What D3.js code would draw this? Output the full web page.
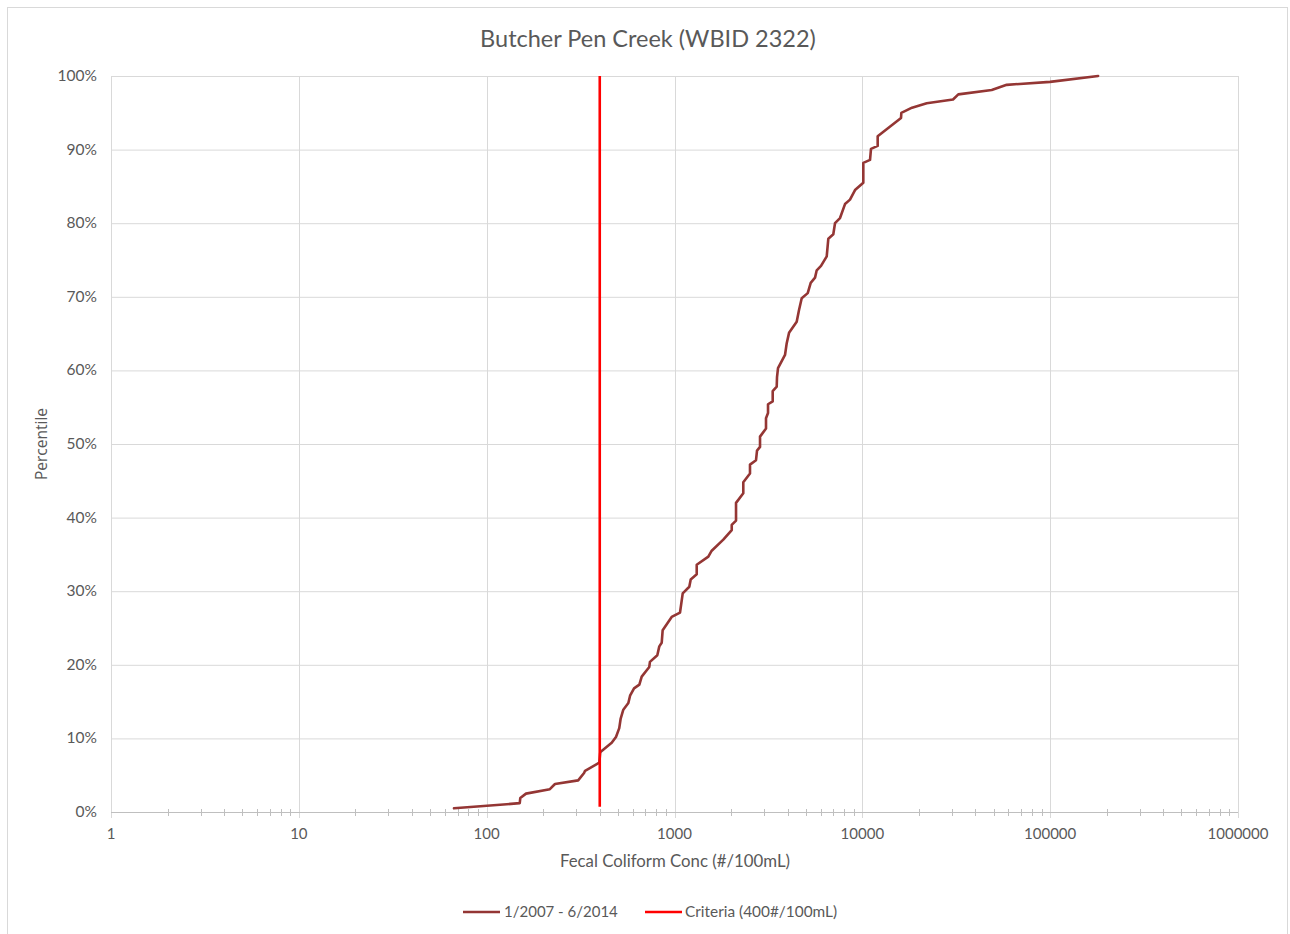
<!DOCTYPE html>
<html><head><meta charset="utf-8">
<script src="https://cdn.jsdelivr.net/npm/d3@7"></script>
<style>body{margin:0;background:#fff}</style>
</head><body><svg id="c" width="1290" height="934"></svg>
<script>
// Data
const conc = [67,150,151,162,217,231,307,330,334,398,402,405,463,488,508,517,534,568,580,609,650,669,734,740,810,830,855,865,966,1070,1106,1199,1220,1313,1313,1514,1578,1819,2017,2017,2126,2126,2324,2324,2523,2523,2716,2750,2853,2853,3070,3070,3147,3147,3333,3333,3501,3514,3557,3876,3958,4072,4473,4602,4756,5120,5311,5600,5717,6026,6463,6591,7006,7154,7606,8087,8598,9142,10120,10120,10990,11120,12070,12070,16070,16130,18390,22020,30400,32430,48850,58700,99800,180000];
const pct = [0.5,1.2,1.9,2.5,3.1,3.8,4.3,5.3,5.6,6.7,8.0,8.2,9.4,10.2,11.4,12.7,13.9,14.8,15.8,16.8,17.3,18.4,19.7,20.4,21.3,22.5,23.0,24.7,26.5,27.1,29.7,30.6,31.6,32.3,33.6,34.7,35.5,37.0,38.3,39.0,39.6,42.0,43.3,44.8,46.0,47.2,47.8,49.1,49.6,51.0,52.1,53.5,54.2,55.4,55.8,57.2,57.8,59.1,60.3,62.1,63.7,65.1,66.6,68.2,69.8,70.5,71.9,72.6,73.6,74.2,75.5,77.9,78.5,80.0,80.7,82.6,83.2,84.5,85.5,88.2,88.6,90.1,90.5,91.8,94.3,95.0,95.7,96.3,96.8,97.5,98.1,98.8,99.2,100];
const criteriaConc = [400, 400];
const criteriaPct = [0.7, 100];
const xTickValues = [1,10,100,1000,10000,100000,1000000];
const yTickValues = [0,10,20,30,40,50,60,70,80,90,100];
const seriesNames = ["1/2007 - 6/2014", "Criteria (400#/100mL)"];
const titleText = "Butcher Pen Creek (WBID 2322)";
const xTitle = "Fecal Coliform Conc (#/100mL)";
const yTitle = "Percentile";

const svg = d3.select("#c");
const FONT = "Lato, 'Open Sans', sans-serif";
const TXT = "#595959";
const GRID = "#D9D9D9";
const m = {l:111, r:1238, t:76, b:812};

svg.append("rect").attr("x",7.5).attr("y",7.5).attr("width",1280).attr("height",940)
  .attr("fill","#fff").attr("stroke","#D9D9D9");

const x = d3.scaleLog().domain([1,1000000]).range([m.l,m.r]);
const y = d3.scaleLinear().domain([0,100]).range([m.b,m.t]);

// horizontal grid
svg.append("g").selectAll("line").data(yTickValues.filter(d=>d>0)).join("line")
  .attr("x1",m.l).attr("x2",m.r).attr("y1",d=>y(d)+0.5).attr("y2",d=>y(d)+0.5)
  .attr("stroke",GRID).attr("stroke-width",1);
// vertical grid
svg.append("g").selectAll("line").data(xTickValues).join("line")
  .attr("x1",d=>Math.round(x(d))+0.5).attr("x2",d=>Math.round(x(d))+0.5)
  .attr("y1",m.t).attr("y2",m.b+6)
  .attr("stroke",GRID).attr("stroke-width",1);

// minor ticks
const minor = [];
for (let dec=0; dec<6; dec++) for (let k=2;k<=9;k++) minor.push(Math.pow(10,dec)*k);
svg.append("g").selectAll("line").data(minor).join("line")
  .attr("x1",d=>Math.round(x(d))+0.5).attr("x2",d=>Math.round(x(d))+0.5)
  .attr("y1",m.b-3).attr("y2",m.b+4)
  .attr("stroke","#BFBFBF").attr("stroke-width",1);
// x axis line
svg.append("line").attr("x1",m.l).attr("x2",m.r).attr("y1",m.b+0.5).attr("y2",m.b+0.5)
  .attr("stroke","#BFBFBF").attr("stroke-width",1);

// tick labels
svg.append("g").selectAll("text").data(xTickValues).join("text")
  .attr("x",d=>x(d)).attr("y",839).attr("text-anchor","middle")
  .attr("font-family",FONT).attr("font-size",15).attr("fill",TXT).text(d=>d3.format("d")(d));
svg.append("g").selectAll("text").data(yTickValues).join("text")
  .attr("x",97).attr("y",d=>y(d)+5).attr("text-anchor","end")
  .attr("font-family",FONT).attr("font-size",15.5).attr("fill",TXT).text(d=>d+"%");

// titles
svg.append("text").attr("x",648).attr("y",47).attr("text-anchor","middle")
  .attr("font-family",FONT).attr("font-size",23.5).attr("fill",TXT).text(titleText);
svg.append("text").attr("x",675).attr("y",867).attr("text-anchor","middle")
  .attr("font-family",FONT).attr("font-size",16.8).attr("fill",TXT).text(xTitle);
svg.append("text").attr("transform","translate(47,444) rotate(-90)").attr("text-anchor","middle")
  .attr("font-family","'Open Sans', sans-serif").attr("font-size",15.5).attr("fill",TXT).text(yTitle);

// series
const line = d3.line().x(d=>x(d[0])).y(d=>y(d[1]));
svg.append("path").datum(conc.map((c,i)=>[c,pct[i]]))
  .attr("d",line).attr("fill","none").attr("stroke","#943634").attr("stroke-width",2.6)
  .attr("stroke-linejoin","round").attr("stroke-linecap","round");
svg.append("path").datum(criteriaConc.map((c,i)=>[c,criteriaPct[i]]))
  .attr("d",line).attr("fill","none").attr("stroke","#FF0000").attr("stroke-width",2.6);

// legend
const lg = svg.append("g");
lg.append("line").attr("x1",463).attr("x2",500).attr("y1",912).attr("y2",912)
  .attr("stroke","#943634").attr("stroke-width",2.6);
lg.append("text").attr("x",504).attr("y",917).attr("font-family",FONT).attr("font-size",15)
  .attr("fill",TXT).text(seriesNames[0]);
lg.append("line").attr("x1",645).attr("x2",682).attr("y1",912).attr("y2",912)
  .attr("stroke","#FF0000").attr("stroke-width",2.6);
lg.append("text").attr("x",685).attr("y",917).attr("font-family",FONT).attr("font-size",15.4)
  .attr("fill",TXT).text(seriesNames[1]);
</script></body></html>
